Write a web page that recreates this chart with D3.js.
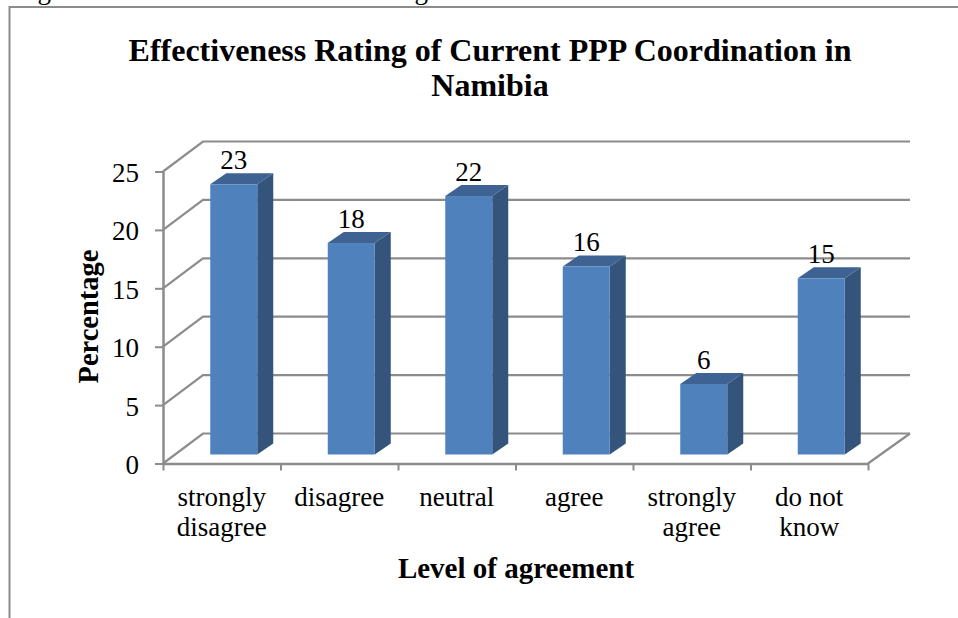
<!DOCTYPE html>
<html>
<head>
<meta charset="utf-8">
<script src="https://cdn.jsdelivr.net/npm/d3@7"></script>
<style>
  html, body { margin: 0; padding: 0; background: #fff; overflow: hidden; }
  svg { display: block; }
  text { font-family: "Liberation Serif", serif; fill: #000; }
  .title, .axis-title { font-weight: bold; }
</style>
</head>
<body>
<div id="chart"></div>
<script>
var categories = ["strongly disagree", "disagree", "neutral", "agree", "strongly agree", "do not know"];
var categoryLines = [["strongly", "disagree"], ["disagree"], ["neutral"], ["agree"], ["strongly", "agree"], ["do not", "know"]];
var percentages = [23, 18, 22, 16, 6, 15];
var yTicks = [0, 5, 10, 15, 20, 25];
var titleLines = ["Effectiveness Rating of Current PPP Coordination in", "Namibia"];

var width = 958, height = 618;
var gridColour = "#8c8c8c";

// wall and floor depth, then where the bars sit inside that depth
var depthX = 40, depthY = -30;
var barDepthX = 16, barDepthY = -11;
var barShiftX = 12;

var svg = d3.select("#chart").append("svg")
    .attr("width", width)
    .attr("height", height);

// only the top and left of the pasted chart's frame show in the page crop
svg.append("rect")
    .attr("x", 9.5).attr("y", 7)
    .attr("width", 1000).attr("height", 800)
    .attr("fill", "none")
    .attr("stroke", gridColour)
    .attr("stroke-width", 2);

// descenders of the caption above the chart, cut off by the page crop
svg.append("text").attr("x", 15).attr("y", -1).style("font-size", "27px").text("Figure");
svg.append("text").attr("x", 356).attr("y", -1).style("font-size", "27px").text("Rating");

var x = d3.scaleBand()
    .domain(categories)
    .range([163, 868])
    .paddingInner(0.6)
    .paddingOuter(0.3);

var y = d3.scaleLinear().domain([0, 25]).range([463.5, 171.5]);
var barY = d3.scaleLinear().domain([0, 25]).range([454.5, 160.8]);
var tickX = d3.scaleLinear().domain([0, categories.length]).range([163, 868]);

// back wall and side wall gridlines
var grid = svg.append("g")
    .attr("fill", "none")
    .attr("stroke", gridColour)
    .attr("stroke-width", 2.2);

grid.selectAll(".grid")
    .data(yTicks)
    .enter().append("path")
    .attr("class", "grid")
    .attr("d", function(d) {
        return "M163," + y(d) + "L" + (163 + depthX) + "," + (y(d) + depthY) + "H910";
    });

// floor edge on the right
grid.append("path")
    .attr("d", "M868," + y(0) + "L910," + (y(0) + depthY));

// axes
var yAxis = svg.append("g")
    .attr("transform", "translate(163,0)")
    .call(d3.axisLeft(y).tickValues(yTicks).tickSize(8).tickSizeOuter(0).tickPadding(16));

var xAxis = svg.append("g")
    .attr("transform", "translate(0," + y(0) + ")")
    .call(d3.axisBottom(tickX)
        .ticks(categories.length)
        .tickFormat("")
        .tickSize(7)
        .tickSizeOuter(0));

[yAxis, xAxis].forEach(function(axis) {
    axis.selectAll("path").attr("stroke", gridColour).attr("stroke-width", 2.5);
    axis.selectAll("line").attr("stroke", gridColour).attr("stroke-width", 2);
});

yAxis.selectAll("text")
    .style("font-family", '"Liberation Serif", serif')
    .style("font-size", "27px")
    .attr("fill", "#000")
    .attr("dy", "0.37em");

// bars: front, side and top faces
var bars = svg.selectAll(".bar")
    .data(percentages)
    .enter().append("g")
    .attr("class", "bar");

function left(i) { return x(categories[i]) + barShiftX; }

bars.append("path")
    .attr("fill", "#34547b")
    .attr("d", function(d, i) {
        var r = left(i) + x.bandwidth();
        return "M" + r + "," + barY(d) +
            "l" + barDepthX + "," + barDepthY +
            "V" + (barY(0) + barDepthY) +
            "L" + r + "," + barY(0) + "Z";
    });

bars.append("path")
    .attr("fill", "#3e6291")
    .attr("d", function(d, i) {
        return "M" + left(i) + "," + barY(d) +
            "l" + barDepthX + "," + barDepthY +
            "h" + x.bandwidth() +
            "l" + (-barDepthX) + "," + (-barDepthY) + "Z";
    });

bars.append("rect")
    .attr("fill", "#4f81bd")
    .attr("x", function(d, i) { return left(i); })
    .attr("y", function(d) { return barY(d); })
    .attr("width", x.bandwidth())
    .attr("height", function(d) { return barY(0) - barY(d); });

bars.append("text")
    .attr("x", function(d, i) { return left(i) + x.bandwidth() / 2; })
    .attr("y", function(d) { return barY(d) - 15.5; })
    .attr("text-anchor", "middle")
    .style("font-size", "27px")
    .text(function(d) { return d; });

// category labels, centred between the floor's ticks
var labels = svg.selectAll(".category")
    .data(categoryLines)
    .enter().append("text")
    .attr("class", "category")
    .attr("text-anchor", "middle")
    .style("font-size", "27px");

labels.selectAll("tspan")
    .data(function(d, i) {
        return d.map(function(line, j) { return {line: line, j: j, i: i}; });
    })
    .enter().append("tspan")
    .attr("x", function(d) { return tickX(d.i + 0.5); })
    .attr("y", function(d) { return 506 + d.j * 29.5; })
    .text(function(d) { return d.line; });

// titles
svg.selectAll(".title")
    .data(titleLines)
    .enter().append("text")
    .attr("class", "title")
    .attr("x", 490)
    .attr("y", function(d, i) { return 60.5 + i * 35; })
    .attr("text-anchor", "middle")
    .style("font-size", "32px")
    .text(function(d) { return d; });

svg.append("text")
    .attr("class", "axis-title")
    .attr("transform", "translate(98,316.5) rotate(-90)")
    .attr("text-anchor", "middle")
    .style("font-size", "28.5px")
    .text("Percentage");

svg.append("text")
    .attr("class", "axis-title")
    .attr("x", 516)
    .attr("y", 578)
    .attr("text-anchor", "middle")
    .style("font-size", "29px")
    .text("Level of agreement");
</script>
</body>
</html>
